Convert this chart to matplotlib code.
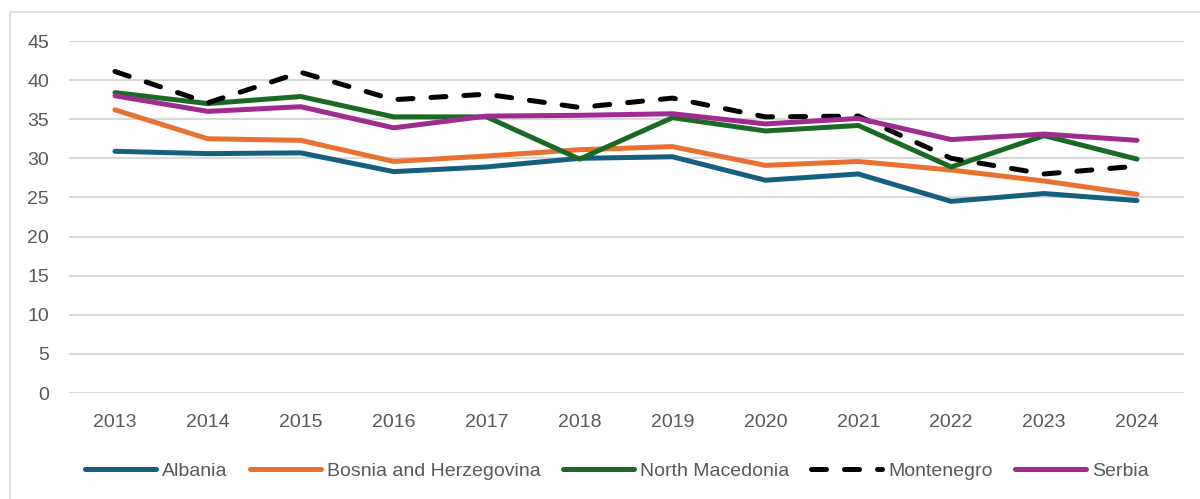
import numpy as np
import matplotlib.pyplot as plt
from matplotlib.patches import Rectangle

years = ["2013", "2014", "2015", "2016", "2017", "2018", "2019", "2020", "2021", "2022", "2023", "2024"]

albania = [30.9, 30.6, 30.7, 28.3, 28.9, 30.0, 30.2, 27.2, 28.0, 24.5, 25.5, 24.6]
bosnia = [36.2, 32.5, 32.3, 29.6, 30.3, 31.1, 31.5, 29.1, 29.6, 28.5, 27.1, 25.4]
north_macedonia = [38.4, 37.0, 37.9, 35.3, 35.3, 29.9, 35.2, 33.5, 34.2, 28.9, 32.9, 29.9]
montenegro = [41.1, 37.1, 41.0, 37.5, 38.2, 36.5, 37.7, 35.3, 35.4, 30.0, 28.0, 29.0]
serbia = [38.0, 36.0, 36.6, 33.9, 35.4, 35.5, 35.7, 34.4, 35.1, 32.4, 33.1, 32.3]

series = [
    ("Albania", albania, "#156082", "-"),
    ("Bosnia and Herzegovina", bosnia, "#E97132", "-"),
    ("North Macedonia", north_macedonia, "#196B24", "-"),
    ("Montenegro", montenegro, "#000000", "--"),
    ("Serbia", serbia, "#A02B93", "-"),
]

plt.rcParams['font.family'] = ['Liberation Sans', 'DejaVu Sans']

fig = plt.figure(figsize=(12, 4.99), dpi=100)
ax = fig.add_axes([68.5 / 1200, 1 - 393 / 499, 1115 / 1200, 352 / 499])

x = np.arange(len(years))
for name, vals, color, ls in series:
    line, = ax.plot(x, vals, color=color, lw=3.6, label=name,
                    solid_capstyle='round', solid_joinstyle='round',
                    dash_capstyle='round')
    if ls == "--":
        line.set_dashes((3.0, 3.6))

ax.set_xlim(-0.5, 11.5)
ax.set_ylim(0, 45)
ax.set_yticks(range(0, 46, 5))
ax.set_xticks(x)
ax.set_xticklabels(years)
ax.grid(axis='y', color='#D9D9D9', lw=1.5)
ax.set_axisbelow(True)
for s in ax.spines.values():
    s.set_visible(False)
ax.tick_params(length=0, labelsize=14, labelcolor='#595959')
ax.tick_params(axis='y', pad=14)
ax.tick_params(axis='x', pad=15)

fig.legend(loc='center', bbox_to_anchor=(617 / 1200, 1 - 471 / 499), ncol=5,
           frameon=False, fontsize=14, labelcolor='#595959',
           handlelength=3.65, handletextpad=0.3, columnspacing=1.15)

fig.patches.append(Rectangle((10 / 1200, -0.05), 1.2, 1 - 12 / 499 + 0.05,
                             transform=fig.transFigure, fill=False,
                             edgecolor='#D9D9D9', lw=1.2))

fig.savefig("out.png", dpi=100)
